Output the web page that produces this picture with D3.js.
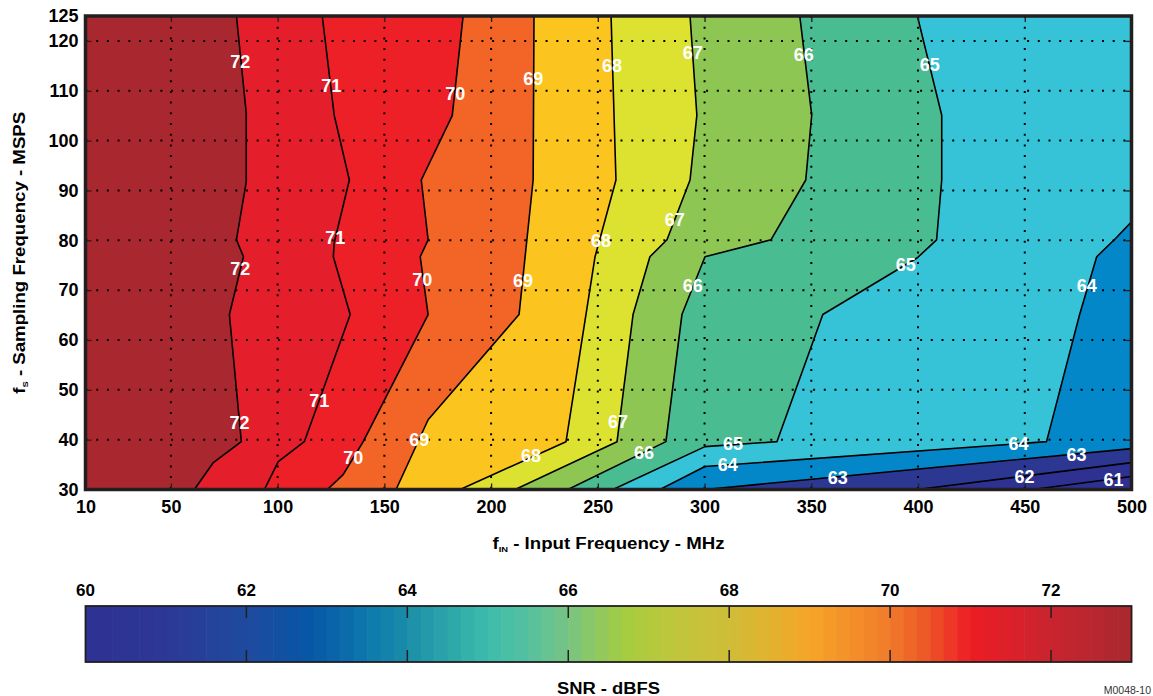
<!DOCTYPE html>
<meta charset="utf-8">
<style>
body { margin: 0; background: #fff; }
svg { font-family: "Liberation Sans", Arial, sans-serif; font-weight: bold; }
.axis text { font-size: 18px; fill: #000; }
.axis line { stroke: #231f20; stroke-width: 1.3; }
.axis path { display: none; }
.grid { stroke: #000; stroke-width: 2; stroke-dasharray: 2,8.7; }
.iso { fill: none; stroke: #000; stroke-width: 1.6; stroke-linejoin: round; }
.clabel { fill: #fff; font-size: 18px; text-anchor: middle; }
.title { font-size: 16px; fill: #000; }
</style>
<body>
<script src="https://cdn.jsdelivr.net/npm/d3@7"></script>
<script>

// contour lines, [fIN MHz, fs MSPS], ordered from top/right edge down to bottom edge
var c72 = [[80.7,125],[85.3,105.5],[85.3,91.7],[80.7,80.1],[84.0,76.7],[77.4,65.1],[83.0,39.6],[69.9,35.4],[61.0,30]];
var c71 = [[120.9,125],[126.5,105.1],[133.6,92.1],[126.5,79.5],[126.1,76.7],[134.0,65.1],[112.5,39.6],[100.3,35.6],[93.8,30]];
var c70 = [[186.9,125],[181.8,105],[167.3,92.1],[170.5,80.1],[166.8,76.7],[170.5,65.1],[140.1,39.6],[130.7,33.0],[123.3,30]];
var c69 = [[220.1,125],[219.7,92.1],[213.1,65.1],[170.5,44.0],[155.5,30]];
var c68 = [[256.2,125],[258.5,92.1],[248.7,76.7],[235.1,39.6],[185.5,30]];
var c67 = [[293.2,125],[296.4,105.1],[293.2,92.1],[282.4,80.1],[274.4,76.7],[266.5,65.1],[259.0,39.6],[211.3,30]];
var c66 = [[344.6,125],[350.2,105.1],[347.4,92.1],[331.1,80.1],[300.2,76.7],[289.4,65.1],[281.9,39.6],[236.0,30]];
var c65 = [[399.7,125],[411.1,105.1],[411.1,92.1],[408.7,80.1],[399.7,76.5],[355.4,65.1],[333.9,39.6],[300.2,38.6],[257.1,30]];
var c64 = [[500,83.7],[492.4,80.3],[483.7,76.7],[475.7,65.1],[460.2,39.6],[300.2,34.6],[279.1,30]];
var c63 = [[500,38.2],[300.2,30]];
var c62 = [[500,35.4],[399.7,30]];
var c61 = [[500,32.6],[453.7,30]];

var levels = [72,71,70,69,68,67,66,65,64,63,62,61];
var contours = [c72,c71,c70,c69,c68,c67,c66,c65,c64,c63,c62,c61];
// fill of the band just below each level
var bandColors = ["#e41e2b","#ed1f27","#f26527","#fbc41e","#dde12f","#8dc652","#49bc91","#37c3d7","#0387c8","#2c3792","#2e3192","#2e3192"];
var topColor = "#a9282f";

// inline contour labels [fIN, fs, level]
var labels = [
  [82.5,115.8,72],[82.5,74.3,72],[82.1,43.4,72],
  [125.1,111.0,71],[127.0,80.5,71],[119.5,47.8,71],
  [183.2,109.4,70],[167.7,72.1,70],[135.4,36.4,70],
  [219.7,112.4,69],[215.0,71.9,69],[166.3,40.0,69],
  [256.6,115.0,68],[251.5,79.9,68],[218.7,36.8,68],
  [294.5,117.6,67],[286.1,84.1,67],[259.4,43.6,67],
  [346.5,117.2,66],[294.5,70.9,66],[271.6,37.4,66],
  [405.5,115.2,65],[394.2,75.1,65],[313.3,39.2,65],
  [479.0,70.9,64],[447.1,39.2,64],[310.9,35.0,64],
  [362.4,32.4,63],[474.3,37.0,63],
  [449.9,32.6,62],
  [491.6,32.0,61]
];

var xTicks = [10,50,100,150,200,250,300,350,400,450,500];
var yTicks = [30,40,50,60,70,80,90,100,110,120,125];
var xGrid = [50,100,150,200,250,300,350,400,450];
var yGrid = [40,50,60,70,80,90,100,110,120];

// colour bar ramp
var cbStops  = [60,61,62,62.8,63.5,64,65,65.5,66,66.7,67.4,68,68.6,69,70,70.5,71,72,73];
var cbColors = ["#2e3192","#2c3896","#1e4a9e","#0757a6","#0e78ae","#1a8ea8","#3dbcac","#55c1a0","#78c482","#a5cd40","#c2c53b","#cfbd38","#e5b02d","#f7a428","#f07a2a","#ee5228","#ed1c24","#c9252f","#a9282f"];
var cbTicks = [60,62,64,66,68,70,72];

var W = 1153, H = 696;
var x = d3.scaleLinear().domain([10,500]).range([85.5,1131.5]);
var y = d3.scaleLinear().domain([30,125]).range([489.5,16]);

var svg = d3.select("body").append("svg")
    .attr("width", W)
    .attr("height", H);

svg.append("clipPath").attr("id", "plotclip")
  .append("rect")
    .attr("x", x(10)).attr("y", y(125))
    .attr("width", x(500) - x(10)).attr("height", y(30) - y(125));

var plot = svg.append("g").attr("clip-path", "url(#plotclip)");

plot.append("rect")
    .attr("x", x(10)).attr("y", y(125))
    .attr("width", x(500) - x(10)).attr("height", y(30) - y(125))
    .style("fill", topColor);

var line = d3.line()
    .x(function(d) { return x(d[0]); })
    .y(function(d) { return y(d[1]); });

// each band is the area right/below its contour line
contours.forEach(function(c, i) {
  var poly = c.slice();
  poly.push([500,30]);
  if (c[0][1] == 125) poly.push([500,125]);
  plot.append("path")
      .attr("d", line(poly) + "Z")
      .style("fill", bandColors[i])
      .style("stroke", bandColors[i])
      .style("stroke-width", 0.5);
});

plot.selectAll(".iso")
    .data(contours)
  .enter().append("path")
    .attr("class", "iso")
    .attr("d", line);

// dotted grid
plot.selectAll(".gx")
    .data(xGrid)
  .enter().append("line")
    .attr("class", "grid")
    .attr("x1", x).attr("x2", x)
    .attr("y1", y(125)).attr("y2", y(30));

plot.selectAll(".gy")
    .data(yGrid)
  .enter().append("line")
    .attr("class", "grid")
    .attr("x1", x(10)).attr("x2", x(500))
    .attr("y1", y).attr("y2", y);

plot.selectAll(".clabel")
    .data(labels)
  .enter().append("text")
    .attr("class", "clabel")
    .attr("x", function(d) { return x(d[0]); })
    .attr("y", function(d) { return y(d[1]); })
    .attr("dy", "0.36em")
    .text(function(d) { return d[2]; });

// axes with inward ticks
svg.append("g")
    .attr("class", "axis")
    .attr("transform", "translate(0," + y(30) + ")")
    .call(d3.axisBottom(x).tickValues(xTicks).tickSize(-6).tickPadding(11));

svg.append("g")
    .attr("class", "axis")
    .attr("transform", "translate(" + x(10) + ",0)")
    .call(d3.axisLeft(y).tickValues(yTicks).tickSize(-6).tickPadding(7));

svg.append("g")
    .attr("class", "axis")
    .attr("transform", "translate(0," + y(125) + ")")
    .call(d3.axisTop(x).tickValues(xGrid).tickSize(-6).tickFormat(""));

svg.append("g")
    .attr("class", "axis")
    .attr("transform", "translate(" + x(500) + ",0)")
    .call(d3.axisRight(y).tickValues(yGrid).tickSize(-6).tickFormat(""));

svg.append("rect")
    .attr("x", x(10)).attr("y", y(125))
    .attr("width", x(500) - x(10)).attr("height", y(30) - y(125))
    .style("fill", "none")
    .style("stroke", "#231f20")
    .style("stroke-width", 3.5);

// axis titles
var xt = svg.append("text")
    .attr("class", "title")
    .attr("x", (x(10) + x(500)) / 2)
    .attr("y", 549)
    .attr("textLength", 232)
    .attr("lengthAdjust", "spacingAndGlyphs")
    .style("text-anchor", "middle");
xt.append("tspan").text("f");
xt.append("tspan").style("font-size", "8px").attr("dy", 3).text("IN");
xt.append("tspan").attr("dy", -3).text(" - Input Frequency - MHz");

var yt = svg.append("text")
    .attr("class", "title")
    .attr("transform", "translate(25," + (y(30) + y(125)) / 2 + ") rotate(-90)")
    .attr("textLength", 282)
    .attr("lengthAdjust", "spacingAndGlyphs")
    .style("text-anchor", "middle");
yt.append("tspan").text("f");
yt.append("tspan").style("font-size", "8px").attr("dy", 3).text("S");
yt.append("tspan").attr("dy", -3).text(" - Sampling Frequency - MSPS");

// colour bar
var cb = d3.scaleLinear().domain([60,73]).range([85.5,1131.5]);
var cbColor = d3.scaleLinear().domain(cbStops).range(cbColors);
var cbTop = 606, cbBot = 662;
var nBands = 78, step = 13 / nBands;
var bands = d3.range(nBands).map(function(i) { return 60 + i * step; });

svg.selectAll(".cbband")
    .data(bands)
  .enter().append("rect")
    .attr("x", function(d) { return cb(d); })
    .attr("y", cbTop)
    .attr("width", function(d) { return cb(d + step) - cb(d) + 0.6; })
    .attr("height", cbBot - cbTop)
    .style("fill", function(d) { return cbColor(d + step / 2); });

svg.append("rect")
    .attr("x", cb(60)).attr("y", cbTop)
    .attr("width", cb(73) - cb(60)).attr("height", cbBot - cbTop)
    .style("fill", "none")
    .style("stroke", "#231f20")
    .style("stroke-width", 1.8);

svg.selectAll(".cbtick")
    .data(cbTicks.slice(1))
  .enter().append("path")
    .attr("d", function(d) {
      return "M" + cb(d) + "," + cbTop + "V" + (cbTop + 12) +
             "M" + cb(d) + "," + (cbBot - 12) + "V" + cbBot;
    })
    .style("stroke", "#231f20")
    .style("stroke-width", 1.5);

svg.selectAll(".cblabel")
    .data(cbTicks)
  .enter().append("text")
    .attr("x", cb)
    .attr("y", 596)
    .style("font-size", "17px")
    .style("text-anchor", "middle")
    .text(function(d) { return d; });

svg.append("text")
    .attr("class", "title")
    .attr("x", (cb(60) + cb(73)) / 2)
    .attr("y", 694)
    .attr("textLength", 103)
    .attr("lengthAdjust", "spacingAndGlyphs")
    .style("text-anchor", "middle")
    .text("SNR - dBFS");

svg.append("text")
    .attr("x", 1151)
    .attr("y", 694)
    .style("font-size", "10.5px")
    .style("font-weight", "normal")
    .style("fill", "#333")
    .style("text-anchor", "end")
    .text("M0048-10");

</script>
